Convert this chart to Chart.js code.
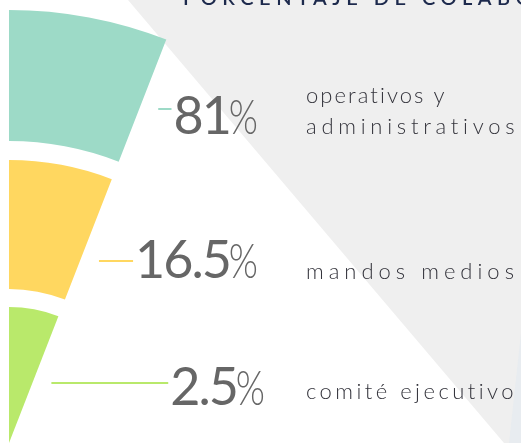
<!DOCTYPE html>
<html>
<head>
<meta charset="utf-8">
<script src="https://cdn.jsdelivr.net/npm/chart.js@4"></script>
<style>
  html, body { margin: 0; padding: 0; background: #fff; }
  canvas { display: block; }
</style>
</head>
<body>
<canvas id="chart" width="521" height="443"></canvas>
<script>
// data
const title = 'PORCENTAJE DE COLABORADORES';
const categories = ['operativos y administrativos', 'mandos medios', 'comité ejecutivo'];
const labelLines = [['operativos y', 'administrativos'], ['mandos medios'], ['comité ejecutivo']];
const values = [81, 16.5, 2.5];

const colors = ['#9ddac7', '#ffd760', '#b9e96b'];
const ringWeights = [131, 129, 136];   // radial thickness of each ring
const gapWeights = [19, 18];           // white gaps between rings
const fanAngle = 21.3;                 // degrees, the fan opens from the vertical
const radius = 433;

// label layout (annotation positions only)
const pctRight = [258, 258, 265];
const pctBase = [134, 278, 405];
const leadY = [109, 261, 383];
const textX = 306;
const textBase = [[103, 134], [279], [399]];
const textWidth = [[139, 209], [208], [208]];

const W = 521, H = 443;

function buildDatasets() {
	let ds = [];
	values.forEach((v, i) => {
		ds.push({label: categories[i], data: [v], backgroundColor: colors[i], weight: ringWeights[i]});
		if (i < gapWeights.length) {
			ds.push({label: 'gap', data: [1], backgroundColor: 'rgba(0,0,0,0)', weight: gapWeights[i]});
		}
	});
	return ds;
}

function fitText(ctx, str, x, y, width) {
	ctx.letterSpacing = '0px';
	const natural = ctx.measureText(str).width;
	const ls = (width - natural) / (str.length - 1);
	ctx.letterSpacing = ls + 'px';
	ctx.fillText(str, x, y);
	ctx.letterSpacing = '0px';
}

const backdrop = {
	id: 'backdrop',
	beforeDraw(chart) {
		const ctx = chart.ctx;
		ctx.save();
		ctx.fillStyle = '#efefef';
		ctx.beginPath();
		ctx.moveTo(128, 0);
		ctx.lineTo(W, 0);
		ctx.lineTo(W, H);
		ctx.lineTo(504, H);
		ctx.closePath();
		ctx.fill();
		ctx.fillStyle = '#e8ecf0';
		ctx.beginPath();
		ctx.moveTo(W, 333);
		ctx.lineTo(509, H);
		ctx.lineTo(W, H);
		ctx.closePath();
		ctx.fill();
		ctx.restore();
	}
};

const labels = {
	id: 'labels',
	afterDraw(chart) {
		const ctx = chart.ctx;
		ctx.save();

		// title, cut off at the top
		ctx.fillStyle = '#1d2a4d';
		ctx.font = '600 20px Lato';
		ctx.textAlign = 'left';
		ctx.letterSpacing = '5.5px';
		ctx.fillText(title, 183, 5);
		ctx.letterSpacing = '0px';

		values.forEach((v, i) => {
			const arc = chart.getDatasetMeta(i * 2).data[0];

			// percentage: narrow light % sign, then the number
			ctx.fillStyle = '#666666';
			ctx.textAlign = 'right';
			ctx.font = '300 48px Lato';
			const pw = ctx.measureText('%').width * 0.78;
			ctx.save();
			ctx.translate(pctRight[i], pctBase[i]);
			ctx.scale(0.78, 1);
			ctx.fillText('%', 0, 0);
			ctx.restore();
			ctx.font = '400 52px Lato';
			ctx.letterSpacing = '-2px';
			const numRight = pctRight[i] - pw + 1;
			ctx.fillText(String(v), numRight, pctBase[i]);
			const numLeft = numRight - ctx.measureText(String(v)).width + 2;
			ctx.letterSpacing = '0px';

			// leader line from the fan edge to the number
			const edgeX = arc.x + (arc.y - leadY[i]) * Math.tan(arc.endAngle + Math.PI / 2);
			ctx.strokeStyle = colors[i];
			ctx.lineWidth = 2;
			ctx.beginPath();
			ctx.moveTo(edgeX + 19, leadY[i]);
			ctx.lineTo(numLeft - 4, leadY[i]);
			ctx.stroke();

			// category text
			ctx.fillStyle = '#34343c';
			ctx.textAlign = 'left';
			ctx.font = '300 22px Lato';
			labelLines[i].forEach((line, j) => {
				fitText(ctx, line, textX, textBase[i][j], textWidth[i][j]);
			});
		});
		ctx.restore();
	}
};

const ctx = document.getElementById('chart');
const fanWidth = radius * Math.sin(fanAngle * Math.PI / 180);

new Chart(ctx, {
	type: 'doughnut',
	data: {
		labels: ['valor'],
		datasets: buildDatasets()
	},
	options: {
		responsive: false,
		animation: false,
		rotation: 0,
		circumference: fanAngle,
		cutout: 0,
		borderWidth: 0,
		layout: {
			padding: {left: 9, top: H - radius, right: W - 9 - fanWidth, bottom: 0}
		},
		plugins: {
			legend: {display: false},
			tooltip: {enabled: false}
		}
	},
	plugins: [backdrop, labels]
});
</script>
</body>
</html>
